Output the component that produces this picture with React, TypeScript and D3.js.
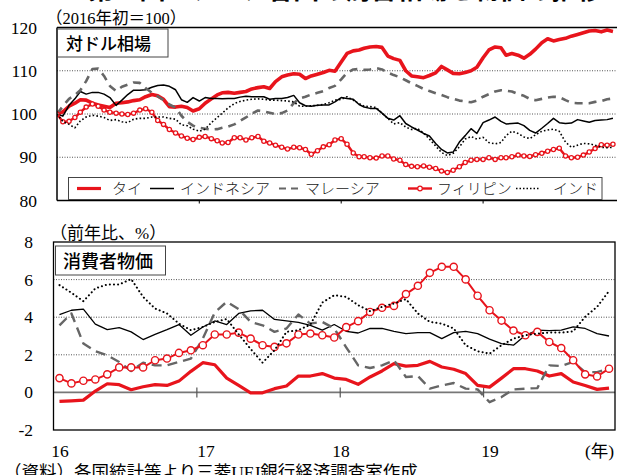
import React from 'react';
import * as d3 from 'd3';

// ---- Top panel: exchange rate vs USD (2016 start = 100), semi-monthly readings ----
const fxThai = [100,100.5,101.8,102.5,103.3,103.2,102.5,102.1,101.8,101.5,
102.5,102.6,102.8,103.1,103.3,104.0,104.5,104.2,103.4,101.7,
101.6,101.8,101.5,100.7,101.2,102.5,103.5,104.4,104.9,105.0,
104.8,105.0,105.2,105.8,106.1,106.3,105.9,107.5,108.6,109.0,
109.3,109.2,108.2,108.8,109.2,109.6,110.1,109.9,112.0,114.0,
114.6,114.8,115.2,115.5,115.6,115.4,113.4,112.8,112.4,110.0,
108.8,108.6,108.4,108.9,109.5,111.0,110.2,109.4,109.3,109.6,
110.0,110.8,113.0,114.8,115.5,115.3,113.6,114.0,113.6,112.9,
113.8,115.0,116.5,117.4,116.9,117.2,117.5,118.0,118.4,118.8,
119.2,119.3,119.0,119.4,119.1];
const fxIndonesia = [100,99.5,102.0,103.5,105.2,104.6,105.0,105.0,104.6,103.8,
102.0,103.2,104.5,105.5,105.5,105.6,106.2,106.6,106.7,106.4,
105.6,103.3,102.7,103.8,103.0,103.8,103.6,103.6,103.5,103.6,
103.6,103.9,104.1,104.0,104.0,104.0,103.4,103.6,103.6,103.8,
104.3,102.6,101.9,101.8,102.0,102.1,102.1,102.8,103.8,103.6,
103.4,102.2,101.6,101.3,101.3,100.2,99.0,98.6,99.6,97.8,
97.0,96.3,95.5,94.9,93.2,91.8,91.0,91.2,93.5,95.0,
96.6,95.5,98.0,98.6,99.3,98.3,97.7,97.8,97.9,97.3,
96.2,95.6,96.7,97.8,99.0,98.0,97.8,97.9,98.7,98.4,
98.1,98.5,98.6,98.7,99.0];
const fxMalaysia = [100,101.8,103.5,104.4,105.5,107.6,110.4,110.5,108.8,106.5,
105.3,106.3,106.8,107.3,107.2,106.0,104.9,104.1,103.2,102.2,
101.5,99.6,98.2,97.3,96.8,96.6,96.4,96.5,96.8,97.1,
97.6,98.4,99.2,100.1,100.8,100.6,100.3,100.0,100.2,100.8,
102.5,103.6,104.0,104.5,104.9,105.3,106.0,106.5,108.0,109.5,
110.3,110.4,110.2,110.3,110.6,110.3,109.6,109.0,108.5,107.8,
107.1,106.5,105.8,105.3,104.8,104.4,103.9,103.5,103.1,102.9,
102.7,103.1,104.0,104.6,105.2,105.5,105.4,105.2,104.6,104.2,
103.5,103.2,103.5,103.8,104.0,103.9,103.2,102.6,102.5,102.5,
102.5,102.8,103.0,103.4,103.6];
const fxPhilippines = [100,98.2,98.3,99.2,100.4,101.6,102.3,101.8,100.9,100.4,
100.2,100.0,99.9,100.2,100.9,101.2,100.4,98.5,97.6,96.4,
95.6,94.9,94.4,94.1,94.6,94.8,94.3,93.8,93.3,93.4,
94.5,94.5,94.0,94.5,94.8,93.7,93.3,92.8,92.3,91.9,
92.3,92.2,91.8,90.7,91.5,92.4,92.9,94.0,94.3,93.0,
91.0,90.1,90.1,89.9,89.8,90.3,90.3,89.6,89.3,88.3,
87.9,87.8,88.0,87.7,87.4,86.8,86.5,87.0,87.8,88.8,
89.3,89.5,89.5,89.9,89.5,89.9,89.9,90.1,90.5,90.3,
90.2,90.6,90.9,91.4,91.8,92.1,90.3,89.9,90.0,90.5,
91.2,92.0,92.9,92.8,93.0];
const fxIndia = [100,98.3,97.6,96.8,98.4,99.3,99.7,99.5,99.2,98.5,
98.7,98.2,98.0,98.8,99.0,99.0,99.3,99.3,99.3,99.0,
98.8,97.5,97.3,96.5,96.0,96.5,98.0,99.2,100.2,101.4,
102.4,102.9,103.2,103.4,103.5,103.4,103.2,103.2,103.1,103.0,
102.8,101.8,101.8,101.9,102.0,102.2,102.6,103.2,103.4,104.0,
103.2,102.4,101.8,101.7,101.5,100.2,99.0,97.7,98.0,97.0,
96.4,96.7,95.6,94.2,92.6,91.1,90.4,90.9,92.4,94.2,
94.8,94.2,94.6,93.4,93.1,93.4,95.0,96.0,95.5,94.7,
94.3,95.2,96.0,96.3,96.5,96.0,93.5,92.3,92.8,93.2,
93.1,92.8,92.3,92.2,92.3];

// ---- Bottom panel: CPI (y/y %), monthly Jan 2016 - Nov 2019 ----
const cpiThai = [-0.48,-0.45,-0.41,0.07,0.46,0.41,0.14,0.30,0.41,0.37,
0.60,1.12,1.58,1.47,0.76,0.37,-0.02,-0.02,0.20,0.34,
0.87,0.87,1.00,0.76,0.69,0.43,0.82,1.14,1.53,1.40,
1.44,1.65,1.35,1.23,1.00,0.37,0.28,0.76,1.26,1.26,
1.14,0.87,1.00,0.55,0.37,0.16,0.23];
const cpiIndonesia = [4.14,4.37,4.43,3.63,3.34,3.45,3.22,2.81,3.09,3.34,
3.61,3.04,3.48,3.80,3.61,4.20,4.34,4.37,3.88,3.80,
3.72,3.57,3.31,3.61,3.25,3.16,3.40,3.40,3.25,3.13,
3.18,3.18,2.86,3.18,3.25,3.13,2.83,2.60,2.51,3.04,
3.31,3.29,3.31,3.48,3.40,3.13,3.00];
const cpiMalaysia = [3.57,4.20,2.60,2.19,1.97,1.62,1.14,1.58,1.44,1.44,
1.62,1.80,2.86,4.25,4.82,4.43,3.75,3.57,3.22,3.40,
4.14,3.66,3.75,3.40,2.40,1.44,1.30,1.44,1.71,0.82,
0.87,0.20,0.37,0.50,0.20,0.16,-0.52,-0.25,0.16,0.20,
0.23,1.44,1.40,1.62,1.08,1.08,1.26];
const cpiPhilippines = [0.76,0.48,0.62,0.69,0.96,1.33,1.33,1.33,1.71,1.80,
2.10,2.24,2.51,3.08,3.08,3.18,2.86,2.51,2.42,2.61,
3.08,3.13,3.04,2.92,3.47,3.79,4.28,4.50,4.60,5.23,
5.67,6.36,6.68,6.68,6.01,5.14,4.37,3.82,3.29,3.04,
3.22,2.68,2.36,1.71,0.96,0.85,1.26];
const cpiIndia = [5.71,5.30,4.85,5.53,5.74,5.74,6.03,5.08,4.46,4.20,
3.66,3.31,3.48,3.75,3.90,3.09,2.31,1.58,2.24,3.22,
3.31,3.60,4.78,5.17,5.08,4.64,4.32,4.55,4.73,4.96,
4.20,3.75,3.66,3.40,2.51,2.19,2.06,2.51,2.86,3.04,
3.13,3.18,3.18,3.25,4.02,4.55,5.39];

const seriesNames = ['タイ', 'インドネシア', 'マレーシア', 'フィリピン', 'インド'];
const topTicks = [80, 90, 100, 110, 120];
const topGrid = [90, 100, 110];
const bottomTicks = [-2, 0, 2, 4, 6, 8];
const bottomGrid = [2, 4, 6];
const yearLabels = ['16', '17', '18', '19'];
const yearBoundaries = [2017, 2018, 2019];

const RED = '#e8141c';
const GRAY = '#666';
const JP = '"Noto Sans CJK JP", sans-serif';
const SERIF = '"Liberation Serif", "Noto Sans CJK JP", serif';

type Style = { stroke: string; width: number; dash?: string; cap?: string; markers?: boolean };

export default function App() {
  const W = 617, H = 475;

  // top panel scales
  const fxDates = fxThai.map((_, i) => new Date(2016, Math.floor(i / 2), i % 2 === 0 ? 1 : 16));
  const xTop = d3.scaleTime().domain([new Date(2016, 0, 1), new Date(2020, 0, 1)]).range([57, 625]);
  const yTop = d3.scaleLinear().domain([80, 120]).range([200.5, 27.5]);
  const top = { l: 57, r: 617, t: 27.5, b: 200.5 };

  // bottom panel scales
  const months = d3.timeMonth.range(new Date(2016, 0, 1), new Date(2019, 11, 1));
  const monthKeys = months.map((m) => d3.timeFormat('%Y-%m')(m));
  const xB = d3.scaleBand().domain(monthKeys).range([53.5, 615]).padding(0);
  const yB = d3.scaleLinear().domain([-2, 8]).range([430, 242]);
  const bot = { l: 53.5, r: 615, t: 242, b: 430 };
  const xBc = (k: string) => (xB(k) as number) + xB.bandwidth() / 2;

  const fxSeries = [fxThai, fxIndonesia, fxMalaysia, fxPhilippines, fxIndia];
  const cpiSeries = [cpiThai, cpiIndonesia, cpiMalaysia, cpiPhilippines, cpiIndia];

  const topStyles: Style[] = [
    { stroke: RED, width: 3.6 },
    { stroke: '#000', width: 1.5 },
    { stroke: GRAY, width: 2.6, dash: '8,6' },
    { stroke: RED, width: 2.4, markers: true },
    { stroke: '#000', width: 1.6, dash: '1.6,2.2' },
  ];
  const botStyles: Style[] = [
    { stroke: RED, width: 3.2 },
    { stroke: '#000', width: 1.3 },
    { stroke: GRAY, width: 2.4, dash: '10,6' },
    { stroke: RED, width: 2.0, markers: true },
    { stroke: '#000', width: 2.0, dash: '0.1,4', cap: 'round' },
  ];

  const lineTop = d3.line<number>().x((_, i) => xTop(fxDates[i])).y((v) => yTop(v));
  const lineBot = d3.line<number>().x((_, i) => xBc(monthKeys[i])).y((v) => yB(v));

  const legendItems = [
    { sx: 77, tx: 112 },
    { sx: 150, tx: 180 },
    { sx: 279, tx: 305 },
    { sx: 408, tx: 437 },
    { sx: 516, tx: 553 },
  ];
  const legendSw = [24, 24, 19, 24, 24];

  return (
    <svg width={W} height={H} style={{ position: 'absolute', left: 0, top: 0, background: '#fff' }}>
      <defs>
        <clipPath id="clipTop">
          <rect x={top.l} y={top.t - 2} width={top.r - top.l} height={top.b - top.t + 2} />
        </clipPath>
        <clipPath id="clipBot">
          <rect x={bot.l} y={bot.t} width={bot.r - bot.l} height={bot.b - bot.t} />
        </clipPath>
      </defs>
      <rect x={0} y={0} width={W} height={H} fill="#fff" />

      {/* title (cut off at the top) */}
      <text x={88} y={-1.5} fontFamily={JP} fontWeight={700} fontSize={26} fill="#000" textLength={515} lengthAdjust="spacing">
        第１図　アジア各国の為替相場と物価の推移
      </text>

      {/* ===== Top panel ===== */}
      <text x={46} y={24} fontFamily={SERIF} fontSize={16.5} fill="#000">（2016年初＝100）</text>
      {topGrid.map((g) => (
        <line key={g} x1={top.l} x2={top.r} y1={yTop(g)} y2={yTop(g)} stroke="#555" strokeWidth={1} strokeDasharray="1,1.5" />
      ))}
      {topTicks.map((t) => (
        <text key={t} x={37} y={yTop(t) + 6} textAnchor="end" fontFamily={SERIF} fontSize={17.5} fill="#000">{t}</text>
      ))}
      <g clipPath="url(#clipTop)">
        {fxSeries.map((s, si) => {
          const st = topStyles[si];
          return (
            <g key={si}>
              <path d={lineTop(s) || ''} fill="none" stroke={st.stroke} strokeWidth={st.width}
                strokeDasharray={st.dash} strokeLinejoin="round" strokeLinecap={(st.cap as any) || 'butt'} />
              {st.markers && s.map((v, i) => (
                <circle key={i} cx={xTop(fxDates[i])} cy={yTop(v)} r={2.1} fill="#fff" stroke={RED} strokeWidth={1.3} />
              ))}
            </g>
          );
        })}
      </g>
      <line x1={top.l} x2={top.r} y1={top.t} y2={top.t} stroke="#000" strokeWidth={1.5} />
      <line x1={top.l} x2={top.l} y1={top.t} y2={top.b} stroke="#000" strokeWidth={1.5} />
      <line x1={top.l} x2={top.r} y1={top.b} y2={top.b} stroke="#000" strokeWidth={1.5} />
      {yearBoundaries.map((y) => (
        <line key={y} x1={xTop(new Date(y, 0, 1))} x2={xTop(new Date(y, 0, 1))} y1={top.b - 3} y2={top.b + 3} stroke="#000" strokeWidth={1} />
      ))}
      {/* panel label */}
      <rect x={57.5} y={29} width={110.5} height={28} fill="#fff" stroke="#444" strokeWidth={1} />
      <text x={66} y={49.5} fontFamily={JP} fontSize={17} fontWeight={500} fill="#000">対ドル相場</text>

      {/* legend */}
      <rect x={68.5} y={177.5} width={533.5} height={22} fill="#fff" stroke="#444" strokeWidth={1} />
      {legendItems.map((it, i) => {
        const st = topStyles[i];
        const sw = legendSw[i];
        const ly = 188.5;
        return (
          <g key={i}>
            <line x1={it.sx} x2={it.sx + sw} y1={ly} y2={ly} stroke={st.stroke}
              strokeWidth={i === 0 ? 3.2 : i === 3 ? 2.4 : i === 2 ? 2.2 : 1.5}
              strokeDasharray={i === 2 ? '7,5' : i === 4 ? '1.5,2' : undefined} />
            {st.markers && <circle cx={it.sx + sw / 2} cy={ly} r={2.3} fill="#fff" stroke={RED} strokeWidth={1.2} />}
            <text x={it.tx} y={ly + 5.5} fontFamily={JP} fontSize={15} fontWeight={300} fill="#222">{seriesNames[i]}</text>
          </g>
        );
      })}

      {/* ===== Bottom panel ===== */}
      <text x={50} y={239} fontFamily={SERIF} fontSize={17} fill="#000">（前年比、%）</text>
      {bottomGrid.map((g) => (
        <line key={g} x1={bot.l} x2={bot.r} y1={yB(g)} y2={yB(g)} stroke="#555" strokeWidth={1} strokeDasharray="1,1.5" />
      ))}
      <line x1={bot.l} x2={bot.r} y1={yB(0)} y2={yB(0)} stroke="#777" strokeWidth={1.8} />
      {yearBoundaries.map((y, i) => {
        const k = monthKeys[(i + 1) * 12];
        const x = xB(k) as number;
        return <line key={y} x1={x} x2={x} y1={yB(0) - 5} y2={yB(0) + 5} stroke="#555" strokeWidth={1.2} />;
      })}
      {bottomTicks.map((t) => (
        <text key={t} x={33} y={yB(t) + 6} textAnchor="end" fontFamily={SERIF} fontSize={17.5} fill="#000">{t}</text>
      ))}
      <g clipPath="url(#clipBot)">
        {cpiSeries.map((s, si) => {
          const st = botStyles[si];
          return (
            <g key={si}>
              <path d={lineBot(s) || ''} fill="none" stroke={st.stroke} strokeWidth={st.width}
                strokeDasharray={st.dash} strokeLinejoin="round" strokeLinecap={(st.cap as any) || 'butt'} />
              {st.markers && s.map((v, i) => (
                <circle key={i} cx={xBc(monthKeys[i])} cy={yB(v)} r={3.6} fill="#fff" stroke={RED} strokeWidth={1.4} />
              ))}
            </g>
          );
        })}
      </g>
      <rect x={bot.l} y={bot.t} width={bot.r - bot.l} height={bot.b - bot.t} fill="none" stroke="#000" strokeWidth={1.3} />
      <rect x={55.5} y={246} width={110} height={29} fill="#fff" stroke="#444" strokeWidth={1} />
      <text x={63} y={267.5} fontFamily={JP} fontSize={18} fontWeight={500} fill="#000">消費者物価</text>

      {/* x labels */}
      {yearLabels.map((lab, i) => (
        <text key={lab} x={[60, 206, 341, 490][i]} y={457} textAnchor="middle" fontFamily={SERIF} fontSize={17.5} fill="#000">{lab}</text>
      ))}
      <text x={585} y={457} fontFamily={SERIF} fontSize={17.5} fill="#000">(年)</text>

      {/* source */}
      <text x={4} y={478} fontFamily={SERIF} fontSize={17.5} fill="#000">（資料）各国統計等より三菱UFJ銀行経済調査室作成</text>
    </svg>
  );
}
